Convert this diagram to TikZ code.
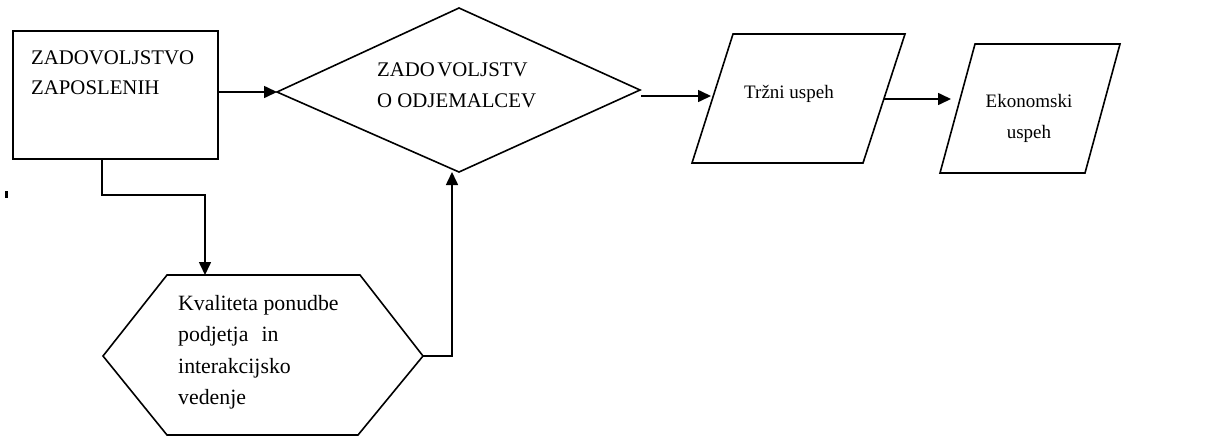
\documentclass[tikz,border=0pt]{standalone}
\usepackage{fontspec}
\setmainfont{Liberation Serif}
\usetikzlibrary{arrows.meta}
\begin{document}
\begin{tikzpicture}[x=1pt,y=-1pt,
  shapeline/.style={line width=1.6pt, line join=miter},
  link/.style={line width=1.6pt, -{Triangle[length=13pt,width=12pt]}},
  lbl/.style={inner sep=0pt, align=left, font=\fontsize{20.8}{30.5}\selectfont},
  clbl/.style={inner sep=0pt, align=center, font=\fontsize{19}{31}\selectfont}]
\useasboundingbox (0,0) rectangle (1209,437);

% employee satisfaction box
\draw[shapeline] (13,31) rectangle (218,159);
\coordinate (boxE) at (218,92);
\coordinate (boxS) at (102,159);
\node[lbl, anchor=west] (tEmp) at (31,72.5) {ZADOVOLJSTVO\\ZAPOSLENIH};

% customer satisfaction diamond
\coordinate (dW) at (277,92);
\coordinate (dN) at (459,8);
\coordinate (dE) at (640,90);
\coordinate (dS) at (459,172);
\draw[shapeline] (dW) -- (dN) -- (dE) -- (dS) -- cycle;
\node[lbl, anchor=west] (tCust) at (377,85.5) {ZADO\hspace{0.12em}VOLJSTV\\O ODJEMALCEV};

% market success
\draw[shapeline] (733,34) -- (905,34) -- (863,163) -- (692,163) -- cycle;
\node[clbl] (tMarket) at (789,93.5) {Tržni uspeh};

% economic success
\draw[shapeline] (975,44) -- (1120,44) -- (1085,173) -- (940,173) -- cycle;
\node[clbl] (tEcon) at (1029,118) {Ekonomski\\uspeh};

% offer quality hexagon
\coordinate (hN) at (205,275);
\coordinate (hE) at (423,356);
\draw[shapeline] (167,275) -- (360,275) -- (hE) -- (358,435) -- (167,435) -- (103,356) -- cycle;
\node[lbl, anchor=west, font=\fontsize{21.8}{31.5}\selectfont] (tQual) at (178,352)
  {Kvaliteta ponudbe\\podjetja\hspace{0.6em}in\\interakcijsko\\vedenje};

% connectors
\coordinate (m1s) at (641,96);
\coordinate (m1e) at (711,96);
\coordinate (m2s) at (884,99);
\coordinate (m2e) at (951,99);
\coordinate (qUp) at (452,172);

\draw[link] (boxE) -- (dW);
\draw[link] (m1s) -- (m1e);
\draw[link] (m2s) -- (m2e);
\draw[link] (boxS) |- (hN |- 0,195) -- (hN);
\draw[link] (hE) -| (qUp);

% small mark at the left margin
\fill (5,191) rectangle (7.5,198);
\end{tikzpicture}
\end{document}
